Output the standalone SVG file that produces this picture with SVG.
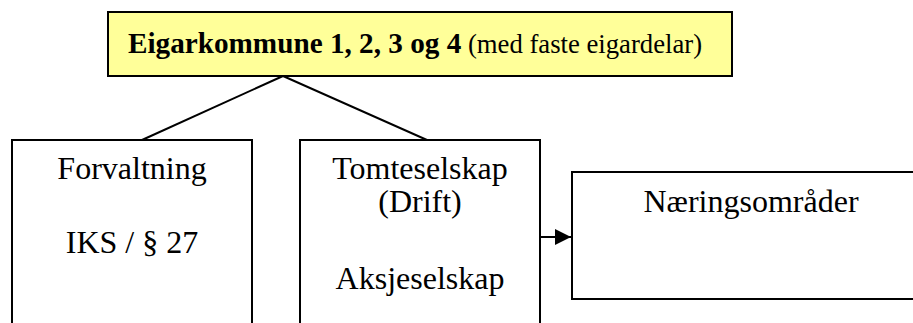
<svg xmlns="http://www.w3.org/2000/svg" width="913" height="323" viewBox="0 0 913 323">
  <defs>
    <style>
      .box { fill: #ffffff; stroke: #000000; stroke-width: 2; }
      .top { fill: #ffff99; stroke: #000000; stroke-width: 2; }
      .t { font-family: "Liberation Serif", "Times New Roman", serif; fill: #000000; }
      .lbl { font-size: 32px; text-anchor: middle; }
      .conn { stroke: #000000; stroke-width: 2; fill: none; }
    </style>
    <marker id="arrow" viewBox="0 0 16 16" refX="16" refY="8" markerWidth="16" markerHeight="16" markerUnits="userSpaceOnUse" orient="auto">
      <path d="M0,0 L16,8 L0,16 Z" fill="#000000"/>
    </marker>
  </defs>
  <rect width="913" height="323" fill="#ffffff"/>
  <g id="connectors">
    <line class="conn" x1="283" y1="76" x2="142" y2="140"/>
    <line class="conn" x1="283" y1="76" x2="427" y2="140"/>
    <line class="conn" x1="540" y1="237" x2="571" y2="237" marker-end="url(#arrow)"/>
  </g>
  <g id="eigarkommune">
    <rect class="top" x="108" y="12" width="624" height="64"/>
    <text class="t" x="128" y="53"><tspan font-size="29.2px" font-weight="bold">Eigarkommune 1, 2, 3 og 4</tspan><tspan font-size="26.7px"> (med faste eigardelar)</tspan></text>
  </g>
  <g id="forvaltning">
    <rect class="box" x="12" y="140" width="240" height="200"/>
    <text class="t lbl" x="132" y="179">Forvaltning</text>
    <text class="t lbl" x="132" y="253">IKS / § 27</text>
  </g>
  <g id="tomteselskap">
    <rect class="box" x="300" y="140" width="240" height="200"/>
    <text class="t lbl" x="420" y="179">Tomteselskap</text>
    <text class="t lbl" x="420" y="212">(Drift)</text>
    <text class="t lbl" x="420" y="289">Aksjeselskap</text>
  </g>
  <g id="naeringsomrader">
    <rect class="box" x="572" y="172" width="360" height="127"/>
    <text class="t lbl" x="751" y="212">Næringsområder</text>
  </g>
</svg>
